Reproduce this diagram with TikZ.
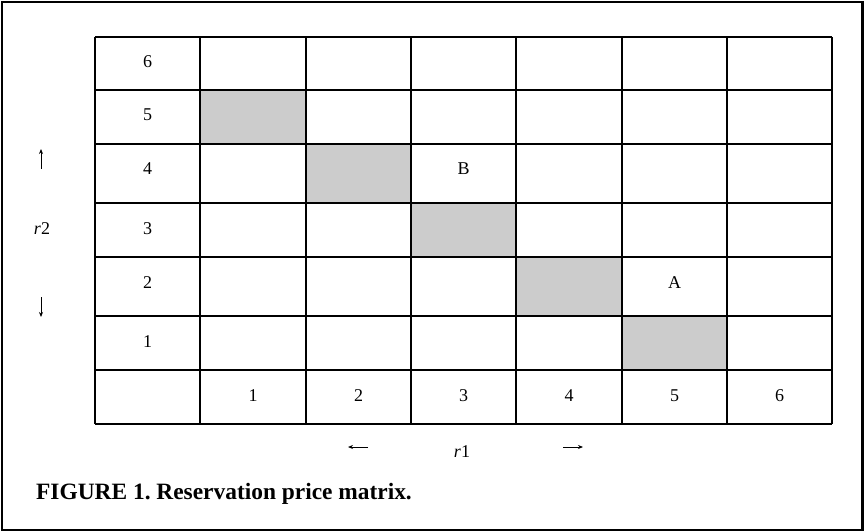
\documentclass[tikz,border=0pt]{standalone}
\usepackage{fontspec}
\setmainfont{Liberation Serif}
\usetikzlibrary{arrows.meta}
\definecolor{cellgray}{HTML}{CCCCCC}
\begin{document}
\begin{tikzpicture}[x=1pt,y=-1pt,
  lbl/.style={anchor=base,inner sep=0pt,font=\fontsize{18}{20}\selectfont},
  capt/.style={anchor=base west,inner sep=0pt,font=\fontsize{23.4}{26}\selectfont\bfseries\frenchspacing},
  gridline/.style={line width=1.5pt,black},
  frame/.style={line width=2.5pt,black},
  axarrow/.style={line width=1pt,-{Stealth[length=5pt,width=4pt]}}]
\useasboundingbox (0,0) rectangle (865,532);
\draw[frame] (2,2) rectangle (862.5,530);
% shaded diagonal cells
\foreach \xa/\xb/\ya/\yb in {200/306/90/144,306/411/144/203,411/516/203/257,516/622/257/316,622/727/316/370}
  \fill[cellgray] (\xa,\ya) rectangle (\xb,\yb);
% grid
\foreach \x in {95,200,306,411,516,622,727,832}
  \draw[gridline] (\x,37) -- (\x,424);
\foreach \y in {37,90,144,203,257,316,370,424}
  \draw[gridline] (95,\y) -- (832,\y);
% row labels
\node[lbl] (r6) at (147.5,68) {6};
\node[lbl] (r5) at (147.5,121) {5};
\node[lbl] (r4) at (147.5,175) {4};
\node[lbl] (r3) at (147.5,234) {3};
\node[lbl] (r2l) at (147.5,288) {2};
\node[lbl] (r1l) at (147.5,347) {1};
% column labels
\node[lbl] (c1) at (253,401) {1};
\node[lbl] (c2) at (358.5,401) {2};
\node[lbl] (c3) at (463.5,401) {3};
\node[lbl] (c4) at (569,401) {4};
\node[lbl] (c5) at (674.5,401) {5};
\node[lbl] (c6) at (779.5,401) {6};
% cell marks
\node[lbl] (B) at (463.5,175) {B};
\node[lbl] (A) at (674.5,288) {A};
% axis labels
\node[lbl] (r2) at (42,234) {\textit{r}2};
\node[lbl] (r1) at (462,457) {\textit{r}1};
\coordinate (upS) at (41,169);
\coordinate (upE) at (41,149);
\coordinate (dnS) at (41,297);
\coordinate (dnE) at (41,317);
\coordinate (lfS) at (368,447);
\coordinate (lfE) at (348,447);
\coordinate (rtS) at (563,447);
\coordinate (rtE) at (583,447);
\draw[axarrow] (upS) -- (upE);
\draw[axarrow] (dnS) -- (dnE);
\draw[axarrow] (lfS) -- (lfE);
\draw[axarrow] (rtS) -- (rtE);
% caption
\node[capt] (cap) at (36,499) {FIGURE 1. Reservation price matrix.};
\end{tikzpicture}
\end{document}
